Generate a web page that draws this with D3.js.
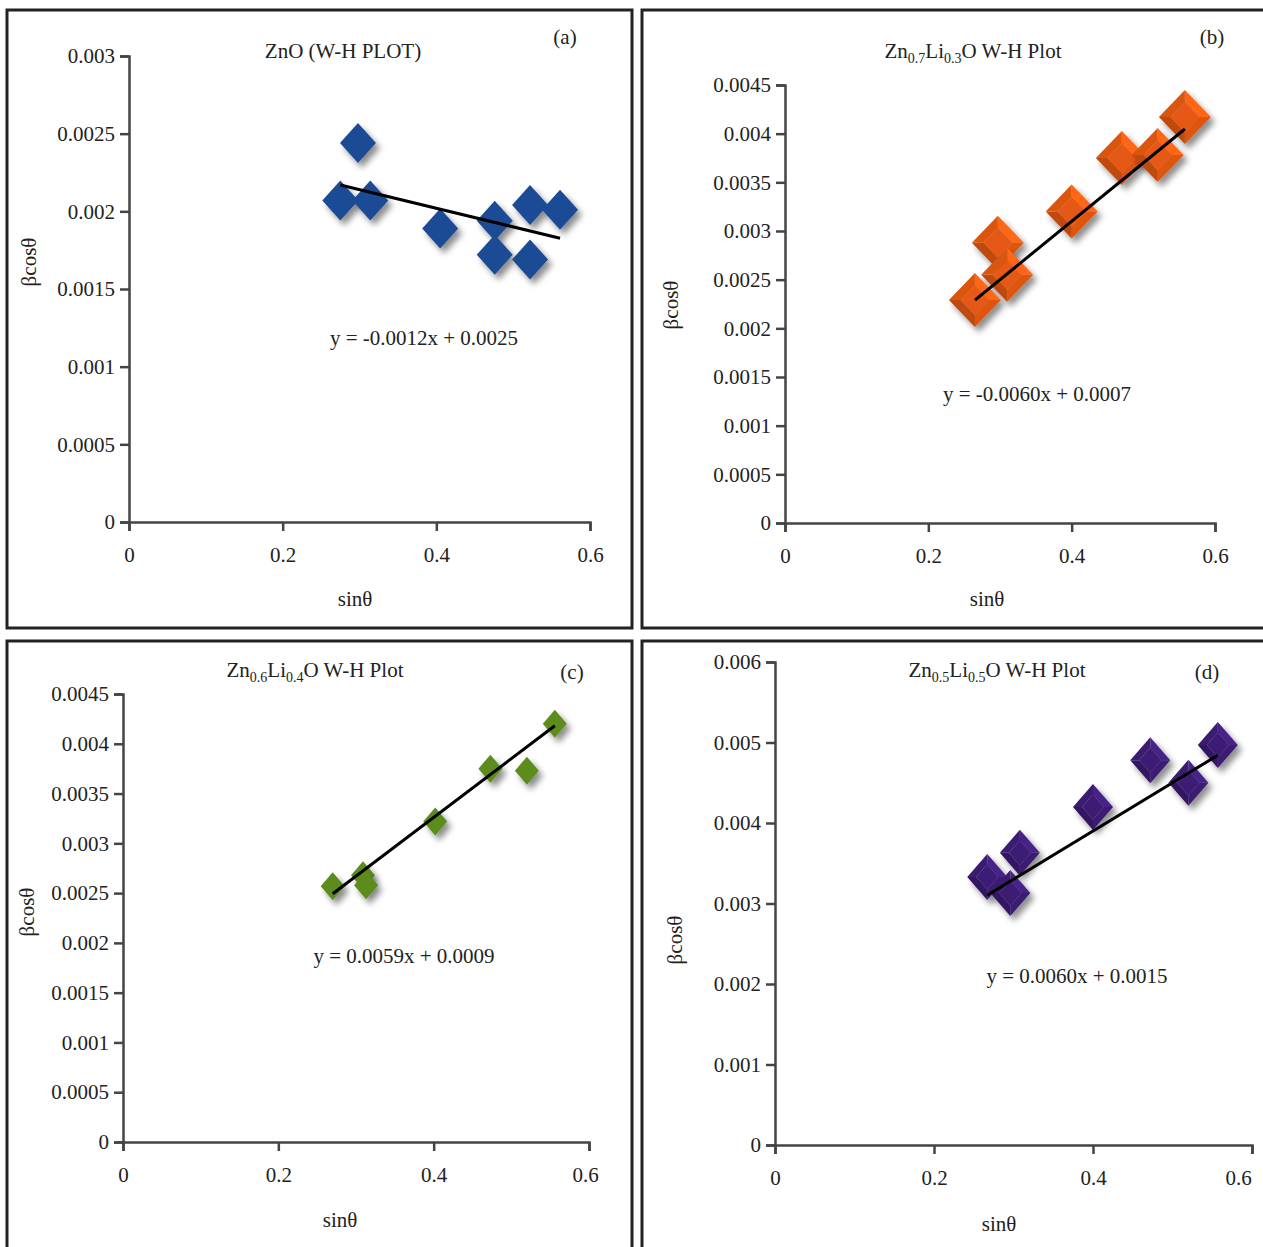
<!DOCTYPE html>
<html>
<head>
<meta charset="utf-8">
<script src="https://cdn.jsdelivr.net/npm/d3@7"></script>
<style>
  body { margin: 0; background: #fff; }
  text { font-family: "Liberation Serif", "Times New Roman", serif; fill: #222; }
</style>
</head>
<body>
<div id="chart"></div>
<script>
// values
var xTicks = [0, 0.2, 0.4, 0.6];

var aX = [0.275, 0.298, 0.314, 0.405, 0.476, 0.476, 0.522, 0.522, 0.561];
var aY = [0.00207, 0.00244, 0.00207, 0.00189, 0.00194, 0.00172, 0.00204, 0.00169, 0.00201];
var aTicks = [0, 0.0005, 0.001, 0.0015, 0.002, 0.0025, 0.003];

var bX = [0.297, 0.310, 0.265, 0.400, 0.470, 0.520, 0.558];
var bY = [0.00288, 0.00255, 0.00229, 0.00320, 0.00375, 0.00378, 0.00417];
var bTicks = [0, 0.0005, 0.001, 0.0015, 0.002, 0.0025, 0.003, 0.0035, 0.004, 0.0045];

var cX = [0.270, 0.309, 0.313, 0.402, 0.473, 0.520, 0.556];
var cY = [0.00257, 0.00268, 0.00258, 0.00322, 0.00375, 0.00373, 0.00420];
var cTicks = [0, 0.0005, 0.001, 0.0015, 0.002, 0.0025, 0.003, 0.0035, 0.004, 0.0045];

var dX = [0.267, 0.308, 0.296, 0.400, 0.472, 0.520, 0.557];
var dY = [0.00333, 0.00363, 0.00313, 0.00420, 0.00478, 0.00450, 0.00497];
var dTicks = [0, 0.001, 0.002, 0.003, 0.004, 0.005, 0.006];

// fitted lines and the equations printed on each panel
var fitSlope = [-0.0012, 0.0060, 0.0059, 0.0060];
var fitIntercept = [0.0025, 0.0007, 0.0009, 0.0015];
var eqText = ["y = -0.0012x + 0.0025", "y = -0.0060x + 0.0007",
              "y = 0.0059x + 0.0009", "y = 0.0060x + 0.0015"];
var tags = ["(a)", "(b)", "(c)", "(d)"];
var titles = [
  [["ZnO (W-H PLOT)", 0]],
  [["Zn", 0], ["0.7", 1], ["Li", 0], ["0.3", 1], ["O W-H Plot", 0]],
  [["Zn", 0], ["0.6", 1], ["Li", 0], ["0.4", 1], ["O W-H Plot", 0]],
  [["Zn", 0], ["0.5", 1], ["Li", 0], ["0.5", 1], ["O W-H Plot", 0]]
];

var W = 1263, H = 1247, FS = 21;

var svg = d3.select("#chart").append("svg")
    .attr("width", W)
    .attr("height", H);

var defs = svg.append("defs");
var f = defs.append("filter").attr("id", "shadow")
    .attr("x", "-50%").attr("y", "-50%").attr("width", "200%").attr("height", "200%");
f.append("feDropShadow")
    .attr("dx", 4).attr("dy", 5).attr("stdDeviation", 3)
    .attr("flood-color", "#000").attr("flood-opacity", 0.45);

var panels = [
  { xs: aX, ys: aY, ticks: aTicks, box: [7, 10, 625, 618], xr: [129, 590], yr: [522, 56],
    color: "#1e4b96", w: 18, h: 20, bevel: false, lastShift: 0,
    title: [343, 58], tag: [565, 44], eq: [424, 345], xl: [355, 606], yl: [36, 262] },
  { xs: bX, ys: bY, ticks: bTicks, box: [642, 10, 640, 618], xr: [785, 1215], yr: [523, 85],
    color: "#ea5a12", w: 26, h: 27, bevel: true, lastShift: 0,
    title: [973, 58], tag: [1212, 44], eq: [1037, 401], xl: [987, 606], yl: [678, 305] },
  { xs: cX, ys: cY, ticks: cTicks, box: [7, 641, 625, 640], xr: [123, 589], yr: [1142, 694],
    color: "#5c8c1f", w: 12, h: 14, bevel: false, lastShift: -4,
    title: [315, 677], tag: [572, 679], eq: [404, 963], xl: [340, 1227], yl: [34, 912] },
  { xs: dX, ys: dY, ticks: dTicks, box: [642, 641, 640, 640], xr: [775, 1252], yr: [1145, 662],
    color: "#3e1c78", w: 20, h: 23, bevel: true, lastShift: -14,
    title: [997, 677], tag: [1207, 679], eq: [1077, 983], xl: [999, 1231], yl: [682, 940] }
];

panels.forEach(function(p, i) {
  var g = svg.append("g");

  g.append("rect")
    .attr("x", p.box[0]).attr("y", p.box[1])
    .attr("width", p.box[2]).attr("height", p.box[3])
    .attr("fill", "none").attr("stroke", "#222").attr("stroke-width", 3);

  var x = d3.scaleLinear().domain([0, 0.6]).range(p.xr);
  var y = d3.scaleLinear().domain([0, d3.max(p.ticks)]).range(p.yr);

  var xa = g.append("g")
    .attr("transform", "translate(0," + p.yr[0] + ")")
    .call(d3.axisBottom(x).tickValues(xTicks).tickFormat(d3.format("~g"))
      .tickSize(9).tickPadding(16));
  var ya = g.append("g")
    .attr("transform", "translate(" + p.xr[0] + ",0)")
    .call(d3.axisLeft(y).tickValues(p.ticks).tickFormat(d3.format("~g"))
      .tickSize(9).tickPadding(5));

  [xa, ya].forEach(function(ax) {
    ax.selectAll("path, line").attr("stroke", "#444").attr("stroke-width", 2.5);
    ax.selectAll("text").attr("font-size", FS)
      .attr("font-family", '"Liberation Serif", serif').attr("fill", "#222");
  });
  // last sinθ label sits a little left of its tick
  xa.selectAll(".tick text").filter(function(d) { return d === 0.6; })
    .attr("dx", p.lastShift);

  // markers
  var pts = p.xs.map(function(v, k) { return { x: v, y: p.ys[k] }; });
  var base = d3.color(p.color);
  var mk = g.append("g").selectAll("g").data(pts).enter().append("g")
    .attr("transform", function(d) { return "translate(" + x(d.x) + "," + y(d.y) + ")"; })
    .attr("filter", "url(#shadow)");

  var w = p.w, h = p.h;
  if (!p.bevel) {
    mk.append("path")
      .attr("d", "M0," + (-h) + "L" + w + ",0L0," + h + "L" + (-w) + ",0Z")
      .attr("fill", p.color);
  } else {
    var s = 0.55, iw = w * s, ih = h * s;
    var outer = [[0, -h], [w, 0], [0, h], [-w, 0]];
    var inner = [[0, -ih], [iw, 0], [0, ih], [-iw, 0]];
    var shades = [base.brighter(0.35), base.darker(0.15), base.darker(0.55), base.darker(0.2)];
    for (var k = 0; k < 4; k++) {
      var n = (k + 1) % 4;
      mk.append("path")
        .attr("d", "M" + outer[k] + "L" + outer[n] + "L" + inner[n] + "L" + inner[k] + "Z")
        .attr("fill", shades[k].toString());
    }
    mk.append("path")
      .attr("d", "M" + inner.join("L") + "Z")
      .attr("fill", base.darker(0.05).toString());
  }

  // trend line over the data range
  var ex = d3.extent(p.xs);
  g.append("line")
    .attr("x1", x(ex[0])).attr("y1", y(fitSlope[i] * ex[0] + fitIntercept[i]))
    .attr("x2", x(ex[1])).attr("y2", y(fitSlope[i] * ex[1] + fitIntercept[i]))
    .attr("stroke", "#000").attr("stroke-width", 3);

  // texts
  var t = g.append("text")
    .attr("x", p.title[0]).attr("y", p.title[1])
    .attr("text-anchor", "middle").attr("font-size", FS);
  var prev = 0;
  titles[i].forEach(function(part) {
    var dy = (part[1] - prev) * 5;
    prev = part[1];
    t.append("tspan").attr("dy", dy)
      .attr("font-size", part[1] ? 14 : FS)
      .text(part[0]);
  });

  g.append("text").attr("x", p.tag[0]).attr("y", p.tag[1])
    .attr("text-anchor", "middle").attr("font-size", FS).text(tags[i]);
  g.append("text").attr("x", p.eq[0]).attr("y", p.eq[1])
    .attr("text-anchor", "middle").attr("font-size", FS).text(eqText[i]);
  g.append("text").attr("x", p.xl[0]).attr("y", p.xl[1])
    .attr("text-anchor", "middle").attr("font-size", FS).text("sinθ");
  g.append("text")
    .attr("transform", "translate(" + p.yl[0] + "," + p.yl[1] + ") rotate(-90)")
    .attr("text-anchor", "middle").attr("font-size", FS).text("βcosθ");
});
</script>
</body>
</html>
